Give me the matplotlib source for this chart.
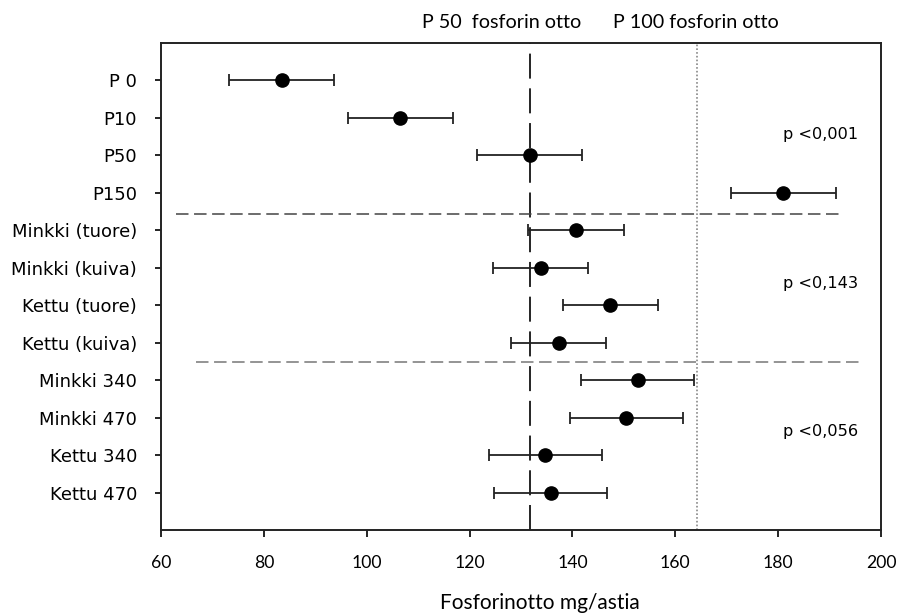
import matplotlib
matplotlib.use("Agg")
import matplotlib.pyplot as plt

categories = ["P 0", "P10", "P50", "P150", "Minkki (tuore)", "Minkki (kuiva)",
              "Kettu (tuore)", "Kettu (kuiva)", "Minkki 340", "Minkki 470",
              "Kettu 340", "Kettu 470"]
means = [83.5, 106.5, 131.7, 181.0, 140.7, 133.8, 147.4, 137.3, 152.7, 150.5, 134.7, 135.8]
errors = [10.2, 10.2, 10.2, 10.2, 9.3, 9.3, 9.3, 9.3, 11.0, 11.0, 11.0, 11.0]
xticks = [60, 80, 100, 120, 140, 160, 180, 200]
ref_p50 = 131.8
ref_p100 = 164.3
p_texts = ["p <0,001", "p <0,143", "p <0,056"]
p_text_y = [10.57, 6.57, 2.62]
sep_y = [8.43, 4.48]
sep_x = [(62.9, 192.0), (66.8, 195.8)]

plt.rcParams['lines.scale_dashes'] = False
fig = plt.figure(figsize=(8.98, 6.14), dpi=100)
ax = fig.add_axes([161/898, 1 - 530/614, 720/898, 487/614])

n = len(categories)
ypos = list(range(n, 0, -1))

ax.errorbar(means, ypos, xerr=errors, fmt='o', color='black', ecolor='#222222',
            elinewidth=1.3, capsize=4.6, capthick=1.3, markersize=9.5, zorder=5)

ax.axvline(ref_p50, color='black', lw=1.2, linestyle=(0, (18, 7)), zorder=2)
ax.axvline(ref_p100, color='#888888', lw=1.2, linestyle=(0, (1.2, 1.5)), zorder=2)

ax.plot(sep_x[0], [sep_y[0]] * 2, color='#444444', lw=1.1, linestyle=(0, (9, 4)), zorder=3)
ax.plot(sep_x[1], [sep_y[1]] * 2, color='#777777', lw=1.1, linestyle=(0, (9, 4)), zorder=3)

for t, yy in zip(p_texts, p_text_y):
    ax.text(181.0, yy, t, fontsize=11.6, family='DejaVu Sans', va='center', ha='left')

ax.set_xlim(60, 200)
ax.set_ylim(0, 13)
ax.set_xticks(xticks)
ax.set_xticklabels([str(v) for v in xticks], family='Lato', fontsize=12.7)
ax.set_yticks(ypos)
ax.set_yticklabels(categories, family='DejaVu Sans', fontsize=13)
ax.tick_params(axis='x', direction='out', length=5, width=1.2, pad=13)
ax.tick_params(axis='y', direction='out', length=4.3, width=1.2, pad=13)
for s in ax.spines.values():
    s.set_linewidth(1.4)
    s.set_color('#222222')

fig.text(540/898, 1 - 609/614, "Fosforinotto mg/astia", family='Lato', fontsize=15,
         ha='center', va='baseline')
fig.text(502/898, 1 - 22/614, "P 50  fosforin otto", family='Lato', fontsize=14.2,
         ha='center', va='center')
fig.text(696/898, 1 - 22/614, "P 100 fosforin otto", family='Lato', fontsize=14.2,
         ha='center', va='center')

fig.savefig("out.png", dpi=100)
